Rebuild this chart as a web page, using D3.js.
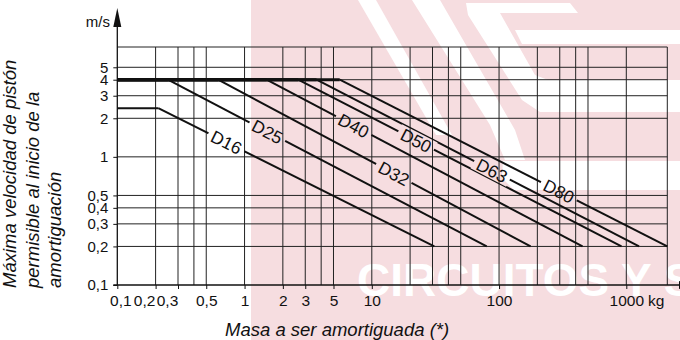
<!DOCTYPE html>
<html>
<head>
<meta charset="utf-8">
<script src="https://cdn.jsdelivr.net/npm/d3@7"></script>
<style>
  body { margin: 0; background: #fff; }
  svg { display: block; font-family: "Liberation Sans", Arial, sans-serif; }
</style>
</head>
<body>
<div id="chart"></div>
<script>
// cylinder diameters
const series = ['D16', 'D25', 'D32', 'D40', 'D50', 'D63', 'D80'];
// max piston speed on the flat part (m/s)
const vMax = [2.4, 4, 4, 4, 4, 4, 4];
// mass where each curve leaves the flat part (kg)
const kneeMass = [0.21, 0.25, 0.62, 1.49, 2.64, 3.68, 5.6];
// mass where each curve ends, at 0.2 m/s (kg)
const endMass = [31, 80, 177, 453, 917, 1260, 2100];
const vEnd = 0.2;
// mass where the label sits on each curve
const labelMass = [0.72, 1.51, 14.9, 7.2, 22.3, 88, 295];

const xTicks = [0.1, 0.2, 0.3, 0.5, 1, 2, 3, 5, 10, 100, 1000];
const xGrid = [0.2, 0.3, 0.4, 0.5, 1, 2, 3, 4, 5, 10, 20, 30, 40, 50, 100, 200, 300, 400, 500, 1000];
const yTicks = [0.1, 0.2, 0.3, 0.4, 0.5, 1, 2, 3, 4, 5];

const W = 680, H = 340;
const svg = d3.select('#chart').append('svg')
  .attr('width', W)
  .attr('height', H);

const x = d3.scaleLog().domain([0.1, 2100]).range([117.3, 667.3]);
const y = d3.scaleLog().domain([0.1, 7.2]).range([285, 47]);
const fmt = d3.formatLocale({ decimal: ',', thousands: '', grouping: [3], currency: ['', ''] }).format('~g');

const x0 = x.range()[0], x1 = x.range()[1];
const yTop = y.range()[1], yBot = y.range()[0];

// watermark behind the chart
const wm = svg.append('g');
wm.append('rect').attr('x', 251).attr('y', 0).attr('width', W - 251).attr('height', H).attr('fill', '#f6dde0');
const wmShapes = [
  [[358, 0], [376, 0], [452, 135], [436, 135]],
  [[412, 0], [440, 0], [515, 130], [525, 160], [505, 160], [490, 125]],
  [[466, 3], [570, 3], [578, 13], [500, 13], [535, 75], [548, 80], [680, 80], [680, 112], [540, 112], [522, 100], [468, 15]],
  [[515, 30], [680, 30], [680, 44], [522, 44]],
  [[503, 161], [680, 161], [680, 190], [514, 190], [502, 178]]
];
wm.selectAll('polygon').data(wmShapes).join('polygon')
  .attr('points', d => d.join(' '))
  .attr('fill', '#fff');
wm.append('text')
  .text('CIRCUITOS Y S')
  .attr('x', 357)
  .attr('y', 296)
  .attr('font-size', 46)
  .attr('font-weight', 'bold')
  .attr('fill', '#fff');

// grid
const grid = svg.append('g').attr('stroke', '#222').attr('stroke-width', 1);
grid.selectAll('.v').data(xGrid).join('line')
  .attr('class', 'v')
  .attr('x1', d => x(d)).attr('x2', d => x(d))
  .attr('y1', yTop).attr('y2', yBot);
grid.selectAll('.h').data(yTicks.slice(1)).join('line')
  .attr('class', 'h')
  .attr('x1', x0).attr('x2', x1)
  .attr('y1', d => y(d)).attr('y2', d => y(d));
grid.append('line').attr('x1', x0).attr('x2', x1).attr('y1', yTop).attr('y2', yTop);
grid.append('line').attr('x1', x1).attr('x2', x1).attr('y1', yTop).attr('y2', yBot);

// axes
const xAxis = svg.append('g')
  .attr('transform', `translate(0,${yBot})`)
  .call(d3.axisBottom(x).tickValues(xTicks).tickSize(4).tickPadding(6).tickFormat(fmt));
xAxis.select('.domain').remove();
xAxis.attr('font-size', 15.5).attr('font-family', null).attr('color', '#111');
const xLabelShift = { 0.1: 3, 0.2: -11.5, 0.3: -11 };
xAxis.selectAll('.tick text').attr('dx', d => xLabelShift[d] || 0);

const yAxis = svg.append('g')
  .attr('transform', `translate(${x0},0)`)
  .call(d3.axisLeft(y).tickValues(yTicks).tickSize(4).tickPadding(5).tickFormat(fmt));
yAxis.select('.domain').remove();
yAxis.attr('font-size', 15).attr('font-family', null).attr('color', '#111');

svg.append('line')
  .attr('x1', x0).attr('x2', x0).attr('y1', 26).attr('y2', yBot)
  .attr('stroke', '#111').attr('stroke-width', 1.3);
svg.append('path')
  .attr('d', `M${x0},8L${x0 + 4},27L${x0 - 4},27Z`)
  .attr('fill', '#111');
svg.append('line')
  .attr('x1', x0 - 4).attr('x2', 680).attr('y1', yBot).attr('y2', yBot)
  .attr('stroke', '#111').attr('stroke-width', 1.3);
svg.append('path')
  .attr('d', `M679,${yBot - 4}L697,${yBot}L679,${yBot + 4}Z`)
  .attr('fill', '#111');

svg.append('text').text('m/s')
  .attr('x', 110).attr('y', 27)
  .attr('text-anchor', 'end')
  .attr('font-size', 15).attr('fill', '#111');
svg.append('text').text('kg')
  .attr('x', 648).attr('y', 306)
  .attr('font-size', 15.5).attr('fill', '#111');

// titles
svg.append('text').text('Masa a ser amortiguada (*)')
  .attr('x', 225).attr('y', 336)
  .attr('font-size', 18.5).attr('font-style', 'italic').attr('fill', '#111');
const yTitle = ['Máxima velocidad de pistón', 'permisible al inicio de la', 'amortiguación'];
svg.selectAll('.ytitle').data(yTitle).join('text')
  .attr('class', 'ytitle')
  .text(d => d)
  .attr('transform', (d, i) => `translate(${16 + i * 22.5},288) rotate(-90)`)
  .attr('font-size', 18.5).attr('font-style', 'italic').attr('fill', '#111');

// curves, broken where their labels sit
const mask = svg.append('defs').append('mask')
  .attr('id', 'gaps')
  .attr('maskUnits', 'userSpaceOnUse')
  .attr('x', 0).attr('y', 0).attr('width', W).attr('height', H);
mask.append('rect').attr('width', W).attr('height', H).attr('fill', '#fff');

const curves = series.map((s, i) => ({
  name: s,
  pts: [[0.1, vMax[i]], [kneeMass[i], vMax[i]], [endMass[i], vEnd]]
}));

const line = d3.line().x(d => x(d[0])).y(d => y(d[1]));
const curveG = svg.append('g').attr('mask', 'url(#gaps)');
curveG.selectAll('.slope').data(curves).join('path')
  .attr('class', 'slope')
  .attr('d', d => line(d.pts.slice(1)))
  .attr('fill', 'none')
  .attr('stroke', '#111')
  .attr('stroke-width', 2);
curveG.selectAll('.flat').data(curves).join('path')
  .attr('class', 'flat')
  .attr('d', d => line(d.pts.slice(0, 2)))
  .attr('fill', 'none')
  .attr('stroke', '#111')
  .attr('stroke-width', d => d.pts[0][1] === 4 ? 3 : 2);

const labels = svg.append('g');
curves.forEach((c, i) => {
  const ax = x(kneeMass[i]), ay = y(vMax[i]);
  const bx = x(endMass[i]), by = y(vEnd);
  const ang = Math.atan2(by - ay, bx - ax);
  const lx = x(labelMass[i]);
  const ly = ay + (lx - ax) * Math.tan(ang);
  const deg = ang * 180 / Math.PI;
  const t = labels.append('text')
    .text(c.name)
    .attr('transform', `translate(${lx},${ly}) rotate(${deg})`)
    .attr('text-anchor', 'middle')
    .attr('dy', '0.36em')
    .attr('font-size', 17.5)
    .attr('fill', '#111');
  const w = t.node().getComputedTextLength();
  mask.append('rect')
    .attr('transform', `translate(${lx},${ly}) rotate(${deg})`)
    .attr('x', -w / 2 - 4).attr('y', -8)
    .attr('width', w + 8).attr('height', 16)
    .attr('fill', '#000');
});
</script>
</body>
</html>
